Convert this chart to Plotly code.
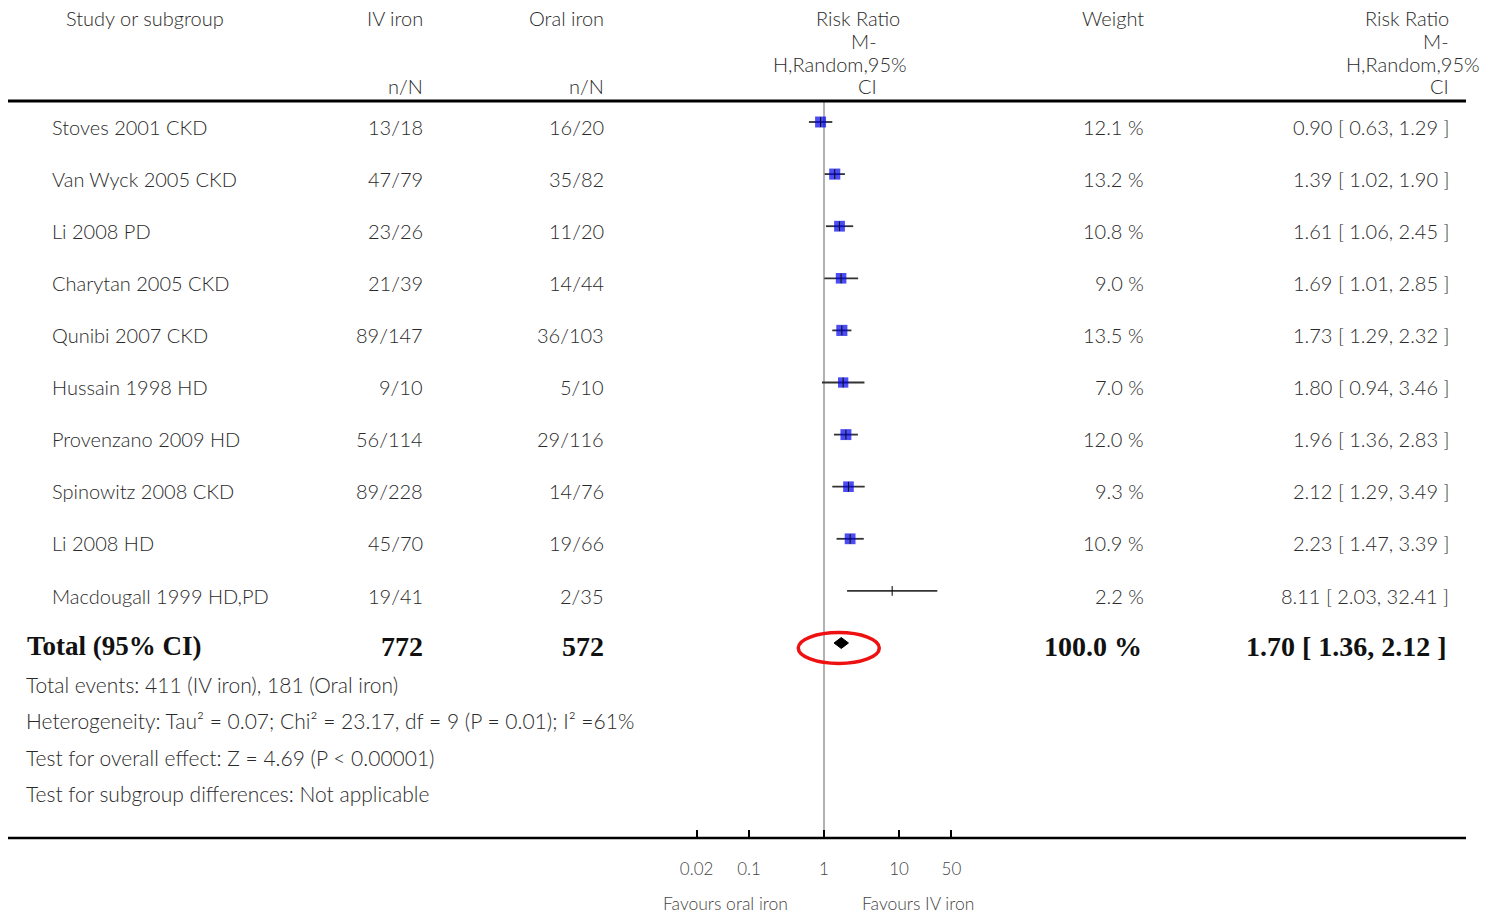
import math
import plotly.graph_objects as go

# ---------------- data ----------------
studies = ["Stoves 2001 CKD", "Van Wyck 2005 CKD", "Li 2008 PD", "Charytan 2005 CKD",
           "Qunibi 2007 CKD", "Hussain 1998 HD", "Provenzano 2009 HD", "Spinowitz 2008 CKD",
           "Li 2008 HD", "Macdougall 1999 HD,PD"]
iv_events = [13, 47, 23, 21, 89, 9, 56, 89, 45, 19]
iv_total = [18, 79, 26, 39, 147, 10, 114, 228, 70, 41]
oral_events = [16, 35, 11, 14, 36, 5, 29, 14, 19, 2]
oral_total = [20, 82, 20, 44, 103, 10, 116, 76, 66, 35]
rr = [0.90, 1.39, 1.61, 1.69, 1.73, 1.80, 1.96, 2.12, 2.23, 8.11]
rr_lo = [0.63, 1.02, 1.06, 1.01, 1.29, 0.94, 1.36, 1.29, 1.47, 2.03]
rr_hi = [1.29, 1.90, 2.45, 2.85, 2.32, 3.46, 2.83, 3.49, 3.39, 32.41]
weights = [12.1, 13.2, 10.8, 9.0, 13.5, 7.0, 12.0, 9.3, 10.9, 2.2]

total_rr = 1.70
total_lo = 1.36
total_hi = 2.12
total_weight = 100.0

tick_vals = [0.02, 0.1, 1, 10, 50]
tick_text = ["0.02", "0.1", "1", "10", "50"]

footer_lines = [
    f"Total events: {sum(iv_events)} (IV iron), {sum(oral_events)} (Oral iron)",
    "Heterogeneity: Tau² = 0.07; Chi² = 23.17, df = 9 (P = 0.01); I² =61%",
    "Test for overall effect: Z = 4.69 (P < 0.00001)",
    "Test for subgroup differences: Not applicable",
]

# ---------------- layout constants ----------------
W, H = 1485, 914
ROW0_PX, ROW_STEP = 122, 52.1
y_top = -ROW0_PX / ROW_STEP
y_bot = (H - ROW0_PX) / ROW_STEP
X_RANGE = [-2.2, 2.2]
X_DOMAIN = [659 / W, 989 / W]


def py(px):
    return 1 - px / H


def pxx(px):
    return px / W


def x_paper(v):
    f = (math.log10(v) - X_RANGE[0]) / (X_RANGE[1] - X_RANGE[0])
    return X_DOMAIN[0] + f * (X_DOMAIN[1] - X_DOMAIN[0])


def y_paper(row):
    return 1 - (row - y_top) / (y_bot - y_top)


TXT = "#2a2a2a"
SANS = "Lato, 'Open Sans', sans-serif"
SERIF = "'Liberation Serif', 'DejaVu Serif', serif"

fig = go.Figure()

rows = list(range(len(studies)))
total_row = len(studies)

# CI lines
cx, cy = [], []
for i in rows:
    cx += [rr_lo[i], rr_hi[i], None]
    cy += [i, i, None]
fig.add_trace(go.Scatter(x=cx, y=cy, mode="lines", line=dict(color="#333333", width=1.8),
                         hoverinfo="skip", showlegend=False))
# weight squares
fig.add_trace(go.Scatter(x=rr, y=rows, mode="markers",
                         marker=dict(symbol="square", color="#0000f0",
                                     size=[(9.5 + 0.12 * w) if w >= 5 else 0 for w in weights],
                                     line=dict(width=0)),
                         showlegend=False))
# centre ticks
fig.add_trace(go.Scatter(x=rr, y=rows, mode="markers",
                         marker=dict(symbol="line-ns", size=7,
                                     line=dict(color="#111111", width=1.1)),
                         showlegend=False))
# total diamond
dh = 0.105
fig.add_trace(go.Scatter(x=[total_lo, total_rr, total_hi, total_rr, total_lo],
                         y=[total_row, total_row - dh, total_row, total_row + dh, total_row],
                         mode="lines", fill="toself", fillcolor="black",
                         line=dict(color="black", width=1), showlegend=False))

ann = []


def text(x, y, s, xanchor="left", size=20, color=TXT, family=SANS, yref="paper", weight=300):
    ann.append(dict(x=x, y=y, xref="paper", yref=yref, text=s, showarrow=False,
                    xanchor=xanchor, yanchor="middle",
                    font=dict(size=size, color=color, family=family, weight=weight)))


# headers
text(pxx(64), py(18), "Study or subgroup")
text(pxx(425), py(18), "IV iron", "right")
text(pxx(425), py(86), "n/N", "right")
text(pxx(606), py(18), "Oral iron", "right")
text(pxx(606), py(86), "n/N", "right")
text(pxx(858), py(18), "Risk Ratio", "center")
text(pxx(864), py(41), "M-", "center")
text(pxx(840), py(64), "H,Random,95%", "center")
text(pxx(867), py(86), "CI", "center")
text(pxx(1113), py(18), "Weight", "center")
text(pxx(1451), py(18), "Risk Ratio", "right")
text(pxx(1451), py(41), "M-", "right")
text(pxx(1482), py(64), "H,Random,95%", "right")
text(pxx(1451), py(86), "CI", "right")

# study rows
for i in rows:
    yy = i + 0.09
    text(pxx(50), yy, studies[i], yref="y")
    text(pxx(425), yy, f"{iv_events[i]}/{iv_total[i]}", "right", yref="y")
    text(pxx(606), yy, f"{oral_events[i]}/{oral_total[i]}", "right", yref="y")
    text(pxx(1146), yy, f"{weights[i]:.1f} %", "right", yref="y")
    text(pxx(1451), yy, f"{rr[i]:.2f} [ {rr_lo[i]:.2f}, {rr_hi[i]:.2f} ]", "right", yref="y")

# total row
ty = total_row + 0.06
BOLD = "#111111"
text(pxx(25), ty, "<b>Total (95% CI)</b>", size=27, color=BOLD, family=SERIF, yref="y", weight=700)
text(pxx(425), ty, f"<b>{sum(iv_total)}</b>", "right", size=28, color=BOLD, family=SERIF, yref="y", weight=700)
text(pxx(606), ty, f"<b>{sum(oral_total)}</b>", "right", size=28, color=BOLD, family=SERIF, yref="y", weight=700)
text(pxx(1144), ty, f"<b>{total_weight:.1f} %</b>", "right", size=28, color=BOLD, family=SERIF, yref="y", weight=700)
text(pxx(1449), ty, f"<b>{total_rr:.2f} [ {total_lo:.2f}, {total_hi:.2f} ]</b>", "right",
     size=28, color=BOLD, family=SERIF, yref="y", weight=700)

# footer
for k, line in enumerate(footer_lines):
    text(pxx(24), py(684 + 36.5 * k), line, size=21)

# favours labels
text(pxx(725), py(903), "Favours oral iron", "center", size=17.5, color="#444444")
text(pxx(918), py(903), "Favours IV iron", "center", size=17.5, color="#444444")

# highlight ellipse around the pooled estimate (paper coords derived from the axis)
ecx = x_paper(total_rr) - 2.5 / W
ecy = y_paper(total_row) - 5 / H
shapes = [
    dict(type="line", xref="paper", yref="paper", x0=pxx(8), x1=pxx(1466),
         y0=py(101), y1=py(101), line=dict(color="black", width=3)),
    dict(type="line", xref="paper", yref="paper", x0=pxx(8), x1=pxx(1466),
         y0=py(838), y1=py(838), line=dict(color="black", width=2.5)),
    dict(type="line", xref="x", yref="paper", x0=1, x1=1, y0=py(838), y1=py(102),
         line=dict(color="#999999", width=1.5), layer="below"),
    dict(type="circle", xref="paper", yref="paper",
         x0=ecx - 40.5 / W, x1=ecx + 40.5 / W, y0=ecy - 15.5 / H, y1=ecy + 15.5 / H,
         line=dict(color="#ee1111", width=3.5)),
]

fig.update_layout(
    width=W, height=H, margin=dict(l=0, r=0, t=0, b=0),
    paper_bgcolor="white", plot_bgcolor="white",
    annotations=ann, shapes=shapes, showlegend=False,
    xaxis=dict(type="log", range=X_RANGE, domain=X_DOMAIN,
               anchor="free", position=py(838), tickvals=tick_vals, ticktext=tick_text,
               ticks="inside", ticklen=8, tickwidth=1.5, tickcolor="black",
               showline=False, showgrid=False, zeroline=False,
               tickfont=dict(size=17, color="#444444", family=SANS, weight=300),
               ticklabelstandoff=19),
    yaxis=dict(range=[y_bot, y_top], domain=[0, 1], visible=False,
               showgrid=False, zeroline=False),
)

fig.write_html("out.html", config={"displayModeBar": False},
               post_script="document.body.style.margin='0';document.body.style.overflow='hidden';")
